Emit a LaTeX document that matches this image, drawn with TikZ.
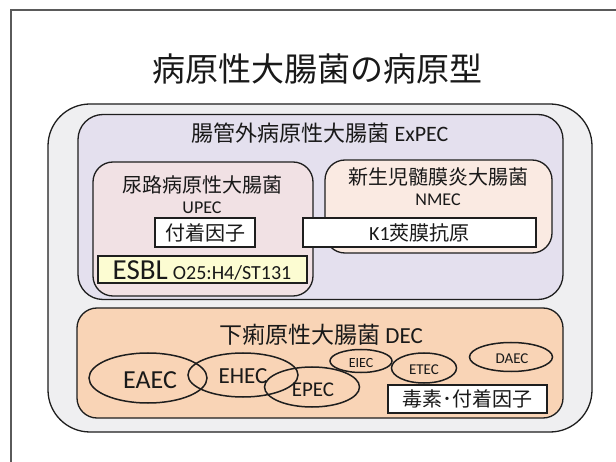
\documentclass[tikz,border=0pt]{standalone}
\usepackage{fontspec}
\setmainfont{Carlito}
\newfontfamily\cjk{Noto Sans CJK JP}
\usetikzlibrary{shapes.geometric}
\definecolor{outerfill}{RGB}{239,239,241}
\definecolor{expecfill}{RGB}{228,224,238}
\definecolor{upecfill}{RGB}{241,225,228}
\definecolor{nmecfill}{RGB}{250,234,226}
\definecolor{decfill}{RGB}{249,212,182}
\definecolor{esblfill}{RGB}{252,252,210}
\definecolor{linecol}{RGB}{30,30,30}
\definecolor{txtcol}{RGB}{25,25,25}
\definecolor{framecol}{RGB}{90,90,90}
\newcommand{\fs}[1]{\fontsize{#1}{#1}\selectfont}
\begin{document}
\begin{tikzpicture}[x=1pt,y=-1pt,
  rbox/.style={draw=linecol, line width=1.3pt, inner sep=0pt},
  wbox/.style={draw=linecol, line width=1.1pt, fill=white, inner sep=0pt},
  ell/.style={draw=linecol, line width=1.5pt, ellipse, inner sep=0pt},
  lbl/.style={text=txtcol, inner sep=0pt}]
\useasboundingbox (0,0) rectangle (616,462);
\fill[white] (0,0) rectangle (616,462);
\coordinate (fb) at (11,462);
\coordinate (fc) at (11,10);
\coordinate (fr) at (616,10);
\draw[framecol, line width=1.6pt] (fb) -- (fc) -- (fr);

% boxes
\node[rbox, fill=outerfill, rounded corners=42pt, minimum width=544pt, minimum height=328pt] (outer) at (320,268) {};
\node[rbox, fill=expecfill, rounded corners=25pt, minimum width=485pt, minimum height=185pt] (expec) at (320.5,207) {};
\node[rbox, fill=upecfill, rounded corners=20pt, minimum width=220pt, minimum height=134pt] (upec) at (203,229) {};
\node[rbox, fill=nmecfill, rounded corners=20pt, minimum width=227pt, minimum height=93pt] (nmec) at (438.5,206.5) {};
\node[wbox, minimum width=233pt, minimum height=29pt] (k1) at (419.5,232.5) {};
\node[wbox, minimum width=100pt, minimum height=29pt] (fuchaku) at (205,232.5) {};
\node[wbox, fill=esblfill, minimum width=209pt, minimum height=27pt] (esbl) at (202.5,269.5) {};
\node[rbox, fill=decfill, rounded corners=20pt, minimum width=486pt, minimum height=110pt] (dec) at (320,363) {};
\node[wbox, minimum width=159pt, minimum height=28pt] (toxin) at (467.5,399) {};

% ellipses
\node[ell, minimum width=118pt, minimum height=50pt] (eaec) at (148,378) {};
\node[ell, minimum width=110pt, minimum height=44pt] (ehec) at (243,375) {};
\node[ell, minimum width=95pt, minimum height=40pt] (epec) at (312,387) {};
\node[ell, minimum width=62pt, minimum height=23pt] (eiec) at (361,361) {};
\node[ell, minimum width=65pt, minimum height=30pt] (etec) at (424,368) {};
\node[ell, minimum width=83pt, minimum height=29pt] (daec) at (511,357) {};

% texts
\node[lbl] (title) at (317,69) {\cjk\fs{33}病原性大腸菌の病原型};
\node[lbl] (expect) at (320,133) {\fs{22}{\cjk 腸管外病原性大腸菌} ExPEC};
\node[lbl] (upect) at (202,185) {\cjk\fs{20}尿路病原性大腸菌};
\node[lbl] (upecn) at (202,208) {\fs{18}UPEC};
\node[lbl] (nmect) at (438,177) {\cjk\fs{20}新生児髄膜炎大腸菌};
\node[lbl] (nmecn) at (438,200) {\fs{18}NMEC};
\node[lbl] (k1t) at (419.5,232.5) {\fs{20}K1{\cjk 莢膜抗原}};
\node[lbl] (fuchakut) at (205,232.5) {\cjk\fs{20}付着因子};
\node[lbl, anchor=base] (esblt) at (202,280) {\fs{29}ESBL\hspace{5pt}\fs{20}O25:H4/ST131};
\node[lbl] (dect) at (321,335) {\fs{23}{\cjk 下痢原性大腸菌} DEC};
\node[lbl] (eaect) at (150,380) {\fs{26}EAEC};
\node[lbl] (ehect) at (243,376) {\fs{23}EHEC};
\node[lbl] (epect) at (313,390) {\fs{21}EPEC};
\node[lbl] (eiect) at (361,363) {\fs{14}EIEC};
\node[lbl] (etect) at (424,370) {\fs{15}ETEC};
\node[lbl] (daect) at (512,359) {\fs{15}DAEC};
\node[lbl] (toxint) at (467.5,399) {\cjk\fs{20}毒素･付着因子};
\end{tikzpicture}
\end{document}
